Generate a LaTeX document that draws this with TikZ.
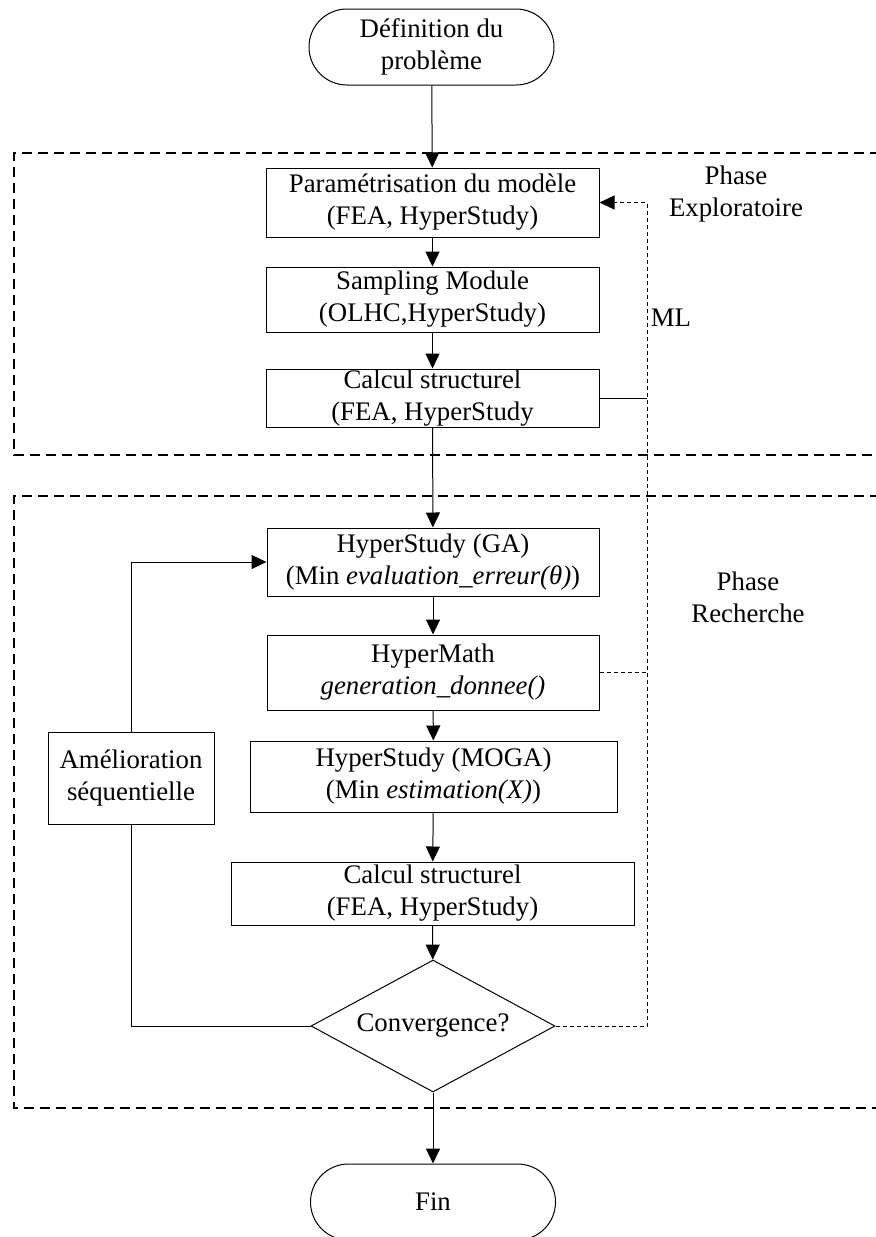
\documentclass[tikz,border=0pt]{standalone}
\usepackage{fontspec}
\setmainfont{Liberation Serif}
\usetikzlibrary{arrows.meta, shapes.geometric}

\begin{document}
\begin{tikzpicture}[x=0.5pt, y=-0.5pt, line width=0.5pt,
    font=\fontsize{13.4}{16}\selectfont,
    box/.style={draw, rectangle, align=center, inner sep=0pt},
    term/.style={draw, rectangle, rounded corners=19pt, align=center, inner sep=0pt,
      minimum width=122.5pt, minimum height=38pt},
    decision/.style={draw, diamond, inner sep=0pt, aspect=1.85,
      minimum width=122pt, minimum height=66pt},
    flow/.style={-{Triangle[length=7.5pt, width=7pt]}},
    mlline/.style={dash pattern=on 2pt off 1.5pt},
    phase/.style={dash pattern=on 5pt off 3pt, line width=0.9pt}]
    \useasboundingbox (0,0) rectangle (876,1237);

    % the two phases
    \draw[phase] (880,153) -- (14,153) -- (14,455) -- (880,455);
    \draw[phase] (880,496) -- (14,496) -- (14,1108) -- (880,1108);
    \node[align=center] (p1) at (736,194) {Phase\\Exploratoire};
    \node[align=center] (p2) at (748,597) {Phase\\Recherche};

    \node[term] (0) at (431.5,47) {Définition du\\problème};
    \node[box, minimum width=166.5pt, minimum height=34.5pt] (1) at (432.5,202.5) {Paramétrisation du modèle\\(FEA, HyperStudy)};
    \node[box, minimum width=166.5pt, minimum height=32.5pt] (2) at (432.5,299.5) {Sampling Module\\(OLHC,HyperStudy)};
    \node[box, minimum width=166.5pt, minimum height=29pt] (3) at (432.5,398) {Calcul structurel\\(FEA, HyperStudy};
    \node[box, minimum width=166pt, minimum height=34pt] (4) at (433,562) {HyperStudy (GA)\\(Min \textit{evaluation\_erreur(θ)})};
    \node[box, minimum width=166pt, minimum height=37.5pt] (5) at (433,672.5) {HyperMath\\\textit{generation\_donnee()}};
    \node[box, minimum width=183.5pt, minimum height=35.5pt] (6) at (433.5,776.5) {HyperStudy (MOGA)\\(Min \textit{estimation(X)})};
    \node[box, minimum width=201.5pt, minimum height=31.5pt] (7) at (432.5,893.5) {Calcul structurel\\(FEA, HyperStudy)};
    \node[decision] (8) at (433,1026) {Convergence?};
    \node[term] (9) at (433,1202) {Fin};
    \node[box, minimum width=83pt, minimum height=46pt] (10) at (131,778) {Amélioration\\séquentielle};

    \draw[flow] (0) -- (1);
    \draw[flow] (1) -- (2);
    \draw[flow] (2) -- (3);
    \draw[flow] (3) -- (4);
    \draw[flow] (4) -- (5);
    \draw[flow] (5) -- (6);
    \draw[flow] (6) -- (7);
    \draw[flow] (7) -- (8);
    \draw[flow] (8) -- (9);

    % retour ML
    \coordinate (ml1) at (647,1026);
    \coordinate (ml2) at (647,202.5);
    \draw[mlline, flow] (8.east) -- (ml1) -- (ml2) -- (1.east);
    \draw (3.east) -- (3.east -| ml1);
    \draw[mlline] (5.east) -- (5.east -| ml1);
    \node (ml) at (671,318) {ML};

    % boucle d'amelioration
    \draw (8.west) -| (10.south);
    \draw[flow] (10.north) |- (4.west);
  \end{tikzpicture}
\end{document}
